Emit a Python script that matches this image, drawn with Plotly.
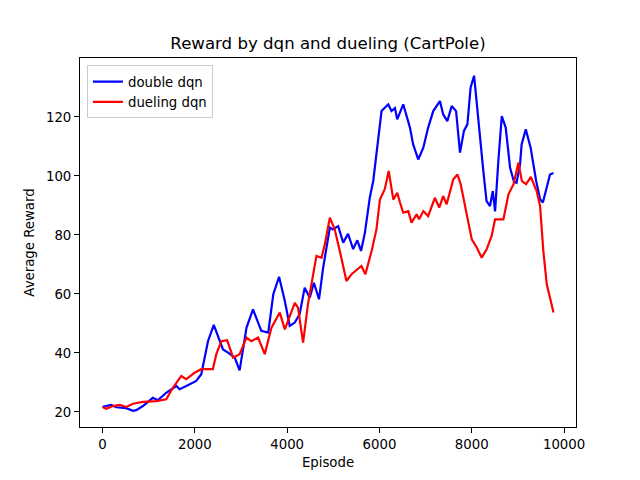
import plotly.graph_objects as go

# double dqn (blue)
blue_ep = [0, 190, 300, 514, 660, 730, 875, 1090, 1200, 1380, 1600, 1670, 1815, 2030, 2140, 2285, 2410,
           2610, 2720, 2865, 2970, 3120, 3260, 3440, 3590, 3700, 3825, 3950, 4055, 4165, 4270,
           4380, 4490, 4580, 4690, 4780, 4925, 4990, 5105, 5215, 5320, 5430, 5520, 5600, 5685,
           5790, 5865, 5920, 6045, 6190, 6260, 6335, 6385, 6515, 6660, 6730, 6840, 6950, 7055,
           7165, 7310, 7380, 7470, 7565, 7660, 7745, 7830, 7905, 7975, 8050, 8140, 8250, 8320,
           8395, 8455, 8505, 8575, 8650, 8735, 8830, 8915, 8970, 9045, 9080, 9170, 9275, 9395,
           9480, 9540, 9625, 9695, 9770]
blue_r = [21.7, 22.4, 21.6, 21.3, 20.4, 20.6, 22.0, 24.8, 24.0, 26.5, 28.8, 27.7, 28.8, 30.5, 32.8, 44.0, 49.5,
          41.2, 40.1, 38.4, 34.1, 48.6, 54.8, 47.5, 46.9, 59.9, 65.8, 57.6, 49.2, 50.3, 53.1,
          62.1, 58.7, 63.8, 58.2, 68.9, 82.5, 81.9, 83.0, 77.4, 80.4, 75.2, 78.2, 74.6, 80.8,
          92.6, 98.3, 105.0, 122.0, 124.3, 122.0, 123.0, 119.2, 124.3, 116.4, 110.7, 105.6, 109.6, 116.4,
          122.0, 125.4, 120.9, 118.6, 123.7, 122.0, 107.9, 115.3, 117.5, 130.0, 134.0, 118.6, 101.7, 91.5,
          89.8, 94.9, 88.0, 105.0, 120.3, 116.4, 102.8, 98.0, 97.7, 103.9, 110.7, 115.8, 109.6, 98.3,
          92.1, 91.0, 96.0, 100.5, 101.0]

# dueling dqn (red)
red_ep = [0, 80, 225, 370, 515, 660, 875, 1165, 1380, 1525, 1705, 1815, 1995, 2140, 2390, 2465,
          2575, 2700, 2830, 2970, 3120, 3225, 3370, 3515, 3660, 3840, 3950, 4055, 4165, 4235,
          4345, 4455, 4560, 4635, 4745, 4815, 4925, 5030, 5140, 5285, 5395, 5540, 5610, 5695,
          5830, 5935, 6010, 6115, 6200, 6300, 6385, 6445, 6515, 6625, 6695, 6805, 6860, 6950,
          7055, 7200, 7295, 7380, 7455, 7600, 7690, 7760, 7890, 8000, 8110, 8215, 8325, 8430,
          8505, 8685, 8795, 8905, 9010, 9085, 9175, 9280, 9405, 9480, 9550, 9625, 9695, 9770]
red_r = [21.7, 21.1, 22.0, 22.4, 21.7, 22.8, 23.4, 23.7, 24.3, 28.2, 32.2, 31.1, 33.3, 34.5, 34.5, 39.6,
         44.0, 44.3, 38.4, 39.6, 45.2, 44.0, 45.2, 39.6, 48.6, 53.7, 48.0, 52.5, 57.0, 55.4,
         43.5, 57.0, 66.1, 72.9, 72.3, 76.8, 85.9, 81.9, 74.6, 64.4, 66.7, 68.4, 69.5, 66.7,
         74.6, 81.9, 92.0, 95.5, 101.7, 92.0, 94.3, 91.0, 87.6, 88.1, 84.2, 87.0, 85.3, 88.1,
         86.4, 92.6, 89.3, 93.2, 90.4, 98.9, 100.5, 97.2, 87.0, 78.5, 75.7, 72.3, 75.2, 79.7,
         85.3, 85.3, 93.8, 97.2, 104.5, 98.3, 97.2, 99.7, 94.9, 89.8, 74.6, 63.3, 58.7, 53.7]

x_ticks = [0, 2000, 4000, 6000, 8000, 10000]
y_ticks = [20, 40, 60, 80, 100, 120]

FONT = "DejaVu Sans"
W, H = 632, 472  # page body adds an 8px offset

fig = go.Figure()
fig.add_trace(go.Scatter(x=blue_ep, y=blue_r, mode="lines", name="double dqn",
                         line=dict(color="#0000ff", width=2.2)))
fig.add_trace(go.Scatter(x=red_ep, y=red_r, mode="lines", name="dueling dqn",
                         line=dict(color="#ff0000", width=2.2)))

axis_common = dict(showgrid=False, zeroline=False, showline=True, linecolor="black",
                   linewidth=1, mirror=True, ticks="outside", ticklen=5, tickwidth=1,
                   tickcolor="black", tickfont=dict(family=FONT, size=13.3, color="black"))

fig.update_layout(
    width=W, height=H,
    margin=dict(l=72, r=64, t=50, b=53),
    paper_bgcolor="white", plot_bgcolor="white",
    font=dict(family=FONT, color="black"),
    title=dict(text="Reward by dqn and dueling (CartPole)", x=0.5, xref="paper", xanchor="center",
               y=1 - 35 / H, yanchor="middle", font=dict(family=FONT, size=16.6, color="black")),
    xaxis=dict(range=[-488, 10258], tickvals=x_ticks, ticktext=[str(v) for v in x_ticks],
               title=dict(text="Episode", font=dict(family=FONT, size=13.3), standoff=6),
               **axis_common),
    yaxis=dict(range=[14.9, 140.0], tickvals=y_ticks, ticktext=[str(v) for v in y_ticks],
               title=dict(text="Average Reward", font=dict(family=FONT, size=13.3), standoff=8),
               **axis_common),
    legend=dict(x=0.014, y=0.98, xanchor="left", yanchor="top", bgcolor="rgba(255,255,255,0.8)",
                bordercolor="#cccccc", borderwidth=1, font=dict(family=FONT, size=13.3),
                tracegroupgap=0, itemwidth=30),
    showlegend=True,
)

fig.write_html("out.html")
